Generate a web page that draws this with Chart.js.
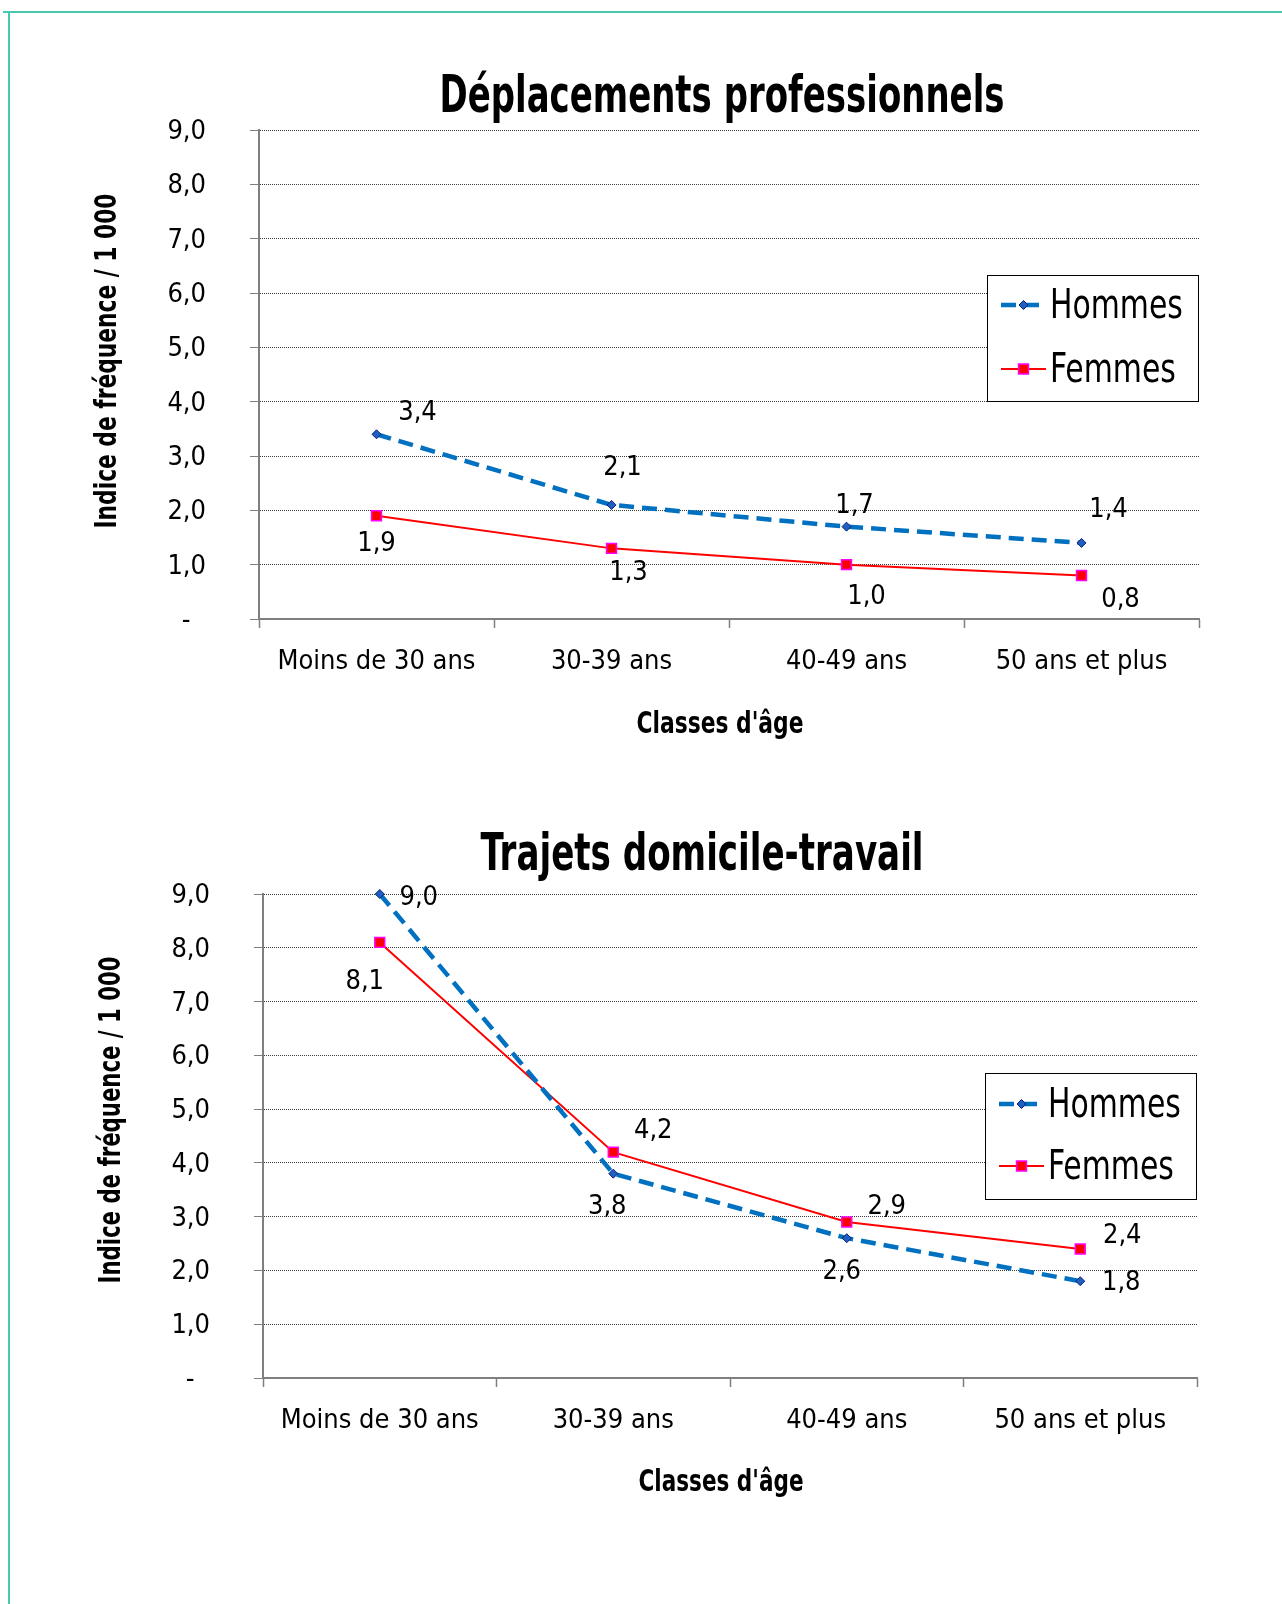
<!DOCTYPE html>
<html lang="fr">
<head>
<meta charset="utf-8">
<title>Indice de fréquence par classe d'âge</title>
<script src="https://cdn.jsdelivr.net/npm/chart.js@4.4.1/dist/chart.umd.min.js"></script>
<style>
  html, body { margin: 0; padding: 0; background: #fff; overflow: hidden; }
  body { width: 1282px; height: 1604px; position: relative; }
  .frame-top { position: absolute; left: 3px; top: 11px; width: 1279px; height: 2px; background: #48c7b3; }
  .frame-left { position: absolute; left: 8px; top: 11px; width: 2px; height: 1593px; background: #48c7b3; }
  canvas { position: absolute; left: 0; }
  #chartPro { top: 0; }
  #chartTrajet { top: 780px; }
</style>
</head>
<body>
<div class="frame-top"></div>
<div class="frame-left"></div>
<canvas id="chartPro" width="1282" height="780"></canvas>
<canvas id="chartTrajet" width="1282" height="824"></canvas>
<script>
// ---- data ----
const categories = ['Moins de 30 ans', '30-39 ans', '40-49 ans', '50 ans et plus'];
// accounting-style labels: zero shown as a dash
const yTickLabels = ['-\u2007', '1,0', '2,0', '3,0', '4,0', '5,0', '6,0', '7,0', '8,0', '9,0'];
const seriesNames = ['Hommes', 'Femmes'];

const proHommes = [3.4, 2.1, 1.7, 1.4];
const proFemmes = [1.9, 1.3, 1.0, 0.8];

const trajetHommes = [9.0, 3.8, 2.6, 1.8];
const trajetFemmes = [8.1, 4.2, 2.9, 2.4];

const chartTitles = ['Déplacements professionnels', 'Trajets domicile-travail'];
const yAxisTitle = 'Indice de fréquence / 1 000';
const xAxisTitle = "Classes d'âge";

// ---- styles ----
const TICK_FONT = '"DejaVu Sans Condensed", "DejaVu Sans", sans-serif';
const NARROW = '"DejaVu Sans Condensed", "DejaVu Sans", sans-serif';
const BLUE = '#0070c0';
const RED = '#ff0000';

const fmt = v => v.toFixed(1).replace('.', ',');

function drawText(ctx, t) {
  ctx.save();
  ctx.font = t.font;
  ctx.fillStyle = '#000';
  ctx.textAlign = t.align || 'center';
  ctx.textBaseline = t.baseline || 'alphabetic';
  ctx.translate(t.x, t.y);
  if (t.rotate) ctx.rotate(t.rotate);
  if (t.width) {
    const w = ctx.measureText(t.text).width;
    ctx.scale(t.width / w, 1);
  } else if (t.scaleX) {
    ctx.scale(t.scaleX, 1);
  }
  ctx.fillText(t.text, 0, 0);
  ctx.restore();
}

function drawMarker(ctx, ds, x, y) {
  Chart.helpers.drawPoint(ctx, {
    pointStyle: ds.pointStyle,
    radius: ds.pointRadius,
    rotation: 0,
    borderWidth: ds.pointBorderWidth
  }, x, y);
}

// titles, axis titles, value labels and framed legend
const decor = {
  id: 'decor',
  afterDraw(chart, args, o) {
    const ctx = chart.ctx;

    // value labels next to each point
    chart.data.datasets.forEach((ds, di) => {
      const meta = chart.getDatasetMeta(di);
      meta.data.forEach((pt, i) => {
        const off = o.labelOffsets[di][i];
        drawText(ctx, {
          text: fmt(ds.data[i]),
          font: '27px ' + TICK_FONT,
          x: pt.x + off[0], y: pt.y + off[1] + 3,
          baseline: 'middle'
        });
      });
    });

    // texts
    o.texts.forEach(t => drawText(ctx, t));

    // legend
    const L = o.legend;
    ctx.save();
    ctx.fillStyle = '#fff';
    ctx.fillRect(L.x, L.y, L.w, L.h);
    ctx.strokeStyle = '#000';
    ctx.lineWidth = 1;
    ctx.strokeRect(L.x + 0.5, L.y + 0.5, L.w, L.h);
    ctx.restore();
    chart.data.datasets.forEach((ds, di) => {
      const ry = L.rows[di];
      ctx.save();
      ctx.strokeStyle = ds.borderColor;
      ctx.lineWidth = ds.borderWidth;
      ctx.setLineDash(ds.borderDash || []);
      ctx.beginPath();
      ctx.moveTo(L.sx1, ry);
      ctx.lineTo(L.sx2, ry);
      ctx.stroke();
      ctx.setLineDash([]);
      ctx.fillStyle = ds.pointBackgroundColor;
      ctx.strokeStyle = ds.pointBorderColor;
      ctx.lineWidth = ds.pointBorderWidth;
      drawMarker(ctx, ds, (L.sx1 + L.sx2) / 2, ry);
      ctx.restore();
      drawText(ctx, {
        text: ds.label, font: L.font, x: L.tx, y: ry + 2,
        align: 'left', baseline: 'middle', scaleX: L.scaleX
      });
    });
  }
};

function makeDatasets(hommes, femmes) {
  return [
    {
      label: seriesNames[0],
      data: hommes,
      borderColor: BLUE,
      borderWidth: 4.5,
      borderDash: [15, 8],
      pointStyle: 'rectRot',
      pointRadius: 4.5,
      pointBackgroundColor: '#1f5fbf',
      pointBorderColor: '#0a1f7a',
      pointBorderWidth: 1,
      tension: 0,
      clip: false
    },
    {
      label: seriesNames[1],
      data: femmes,
      borderColor: RED,
      borderWidth: 2,
      pointStyle: 'rect',
      pointRadius: 7,
      pointBackgroundColor: RED,
      pointBorderColor: '#ff00ff',
      pointBorderWidth: 1.5,
      tension: 0,
      clip: false
    }
  ];
}

function makeOptions(cfg) {
  return {
    responsive: false,
    animation: false,
    devicePixelRatio: 1,
    layout: { padding: { top: cfg.top, right: cfg.right, left: 0, bottom: 0 } },
    plugins: {
      legend: { display: false },
      title: { display: false },
      tooltip: { enabled: false },
      decor: {
        labelOffsets: cfg.labelOffsets,
        texts: cfg.texts,
        legend: cfg.legend
      }
    },
    scales: {
      x: {
        type: 'category',
        offset: true,
        afterFit: a => { a.height = cfg.xHeight; },
        grid: {
          offset: true,
          drawOnChartArea: false,
          drawTicks: true,
          tickLength: 9,
          tickColor: '#7f7f7f',
          tickWidth: 1.5
        },
        border: { display: true, color: '#7f7f7f', width: 2 },
        ticks: {
          color: '#000',
          font: { family: TICK_FONT, size: 27 },
          padding: 18,
          maxRotation: 0,
          autoSkip: false
        }
      },
      y: {
        min: 0,
        max: 9,
        afterFit: a => { a.width = cfg.yWidth; },
        grid: {
          color: '#3a3a3a',
          lineWidth: 1,
          tickLength: 9,
          tickColor: '#7f7f7f',
          tickBorderDash: []
        },
        // border.dash styles the horizontal grid lines (dotted)
        border: { display: true, color: '#7f7f7f', width: 2, dash: [1, 1] },
        ticks: {
          stepSize: 1,
          color: '#000',
          padding: 44,
          labelOffset: 2,
          font: { family: TICK_FONT, size: 27 },
          callback: (v, i) => yTickLabels[i]
        }
      }
    }
  };
}

Chart.register(decor);

new Chart(document.getElementById('chartPro'), {
  type: 'line',
  data: { labels: categories, datasets: makeDatasets(proHommes, proFemmes) },
  options: makeOptions({
    top: 130, right: 83, yWidth: 259, xHeight: 161,
    labelOffsets: [
      [[41, -24], [11, -40], [8, -24], [27, -36]],
      [[0, 25], [17, 22], [20, 29], [39, 21]]
    ],
    texts: [
      { text: chartTitles[0], font: 'bold 52px ' + NARROW, x: 722, y: 112, width: 565 },
      { text: yAxisTitle, font: 'bold 31px ' + NARROW, x: 108, y: 361, rotate: -Math.PI / 2, baseline: 'middle', width: 335 },
      { text: xAxisTitle, font: 'bold 31px ' + NARROW, x: 720, y: 725, baseline: 'middle', width: 167 }
    ],
    legend: {
      x: 987, y: 275, w: 211, h: 126,
      rows: [305, 369], sx1: 1001, sx2: 1046, tx: 1050,
      font: '41px ' + NARROW, scaleX: 0.81
    }
  })
});

new Chart(document.getElementById('chartTrajet'), {
  type: 'line',
  data: { labels: categories, datasets: makeDatasets(trajetHommes, trajetFemmes) },
  options: makeOptions({
    top: 114, right: 85, yWidth: 263, xHeight: 226,
    labelOffsets: [
      [[39, 1], [-6, 30], [-5, 31], [41, -1]],
      [[-15, 37], [40, -24], [40, -18], [42, -16]]
    ],
    texts: [
      { text: chartTitles[1], font: 'bold 52px ' + NARROW, x: 702, y: 90, width: 443 },
      { text: yAxisTitle, font: 'bold 31px ' + NARROW, x: 112, y: 340, rotate: -Math.PI / 2, baseline: 'middle', width: 327 },
      { text: xAxisTitle, font: 'bold 31px ' + NARROW, x: 721, y: 703, baseline: 'middle', width: 165 }
    ],
    legend: {
      x: 985, y: 293, w: 211, h: 126,
      rows: [324, 386], sx1: 999, sx2: 1044, tx: 1048,
      font: '41px ' + NARROW, scaleX: 0.81
    }
  })
});
</script>
</body>
</html>
